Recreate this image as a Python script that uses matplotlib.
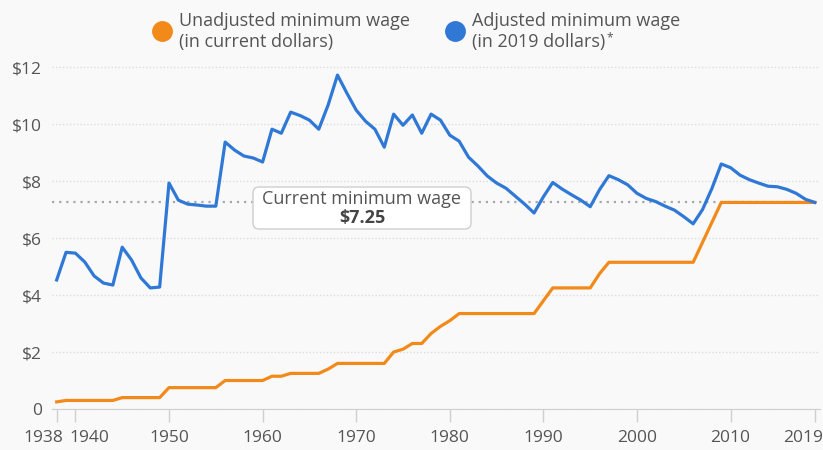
import matplotlib
matplotlib.use("Agg")
import matplotlib.pyplot as plt
from matplotlib.lines import Line2D
from matplotlib.patches import FancyBboxPatch
from matplotlib.transforms import IdentityTransform, ScaledTranslation

plt.rcParams["font.family"] = ["Open Sans", "DejaVu Sans"]

# Federal minimum wage, 1938-2019
years = list(range(1938, 2020))

unadjusted = [
    0.25, 0.30, 0.30, 0.30, 0.30, 0.30, 0.30, 0.40, 0.40, 0.40,   # 1938-1947
    0.40, 0.40, 0.75, 0.75, 0.75, 0.75, 0.75, 0.75, 1.00, 1.00,   # 1948-1957
    1.00, 1.00, 1.00, 1.15, 1.15, 1.25, 1.25, 1.25, 1.25, 1.40,   # 1958-1967
    1.60, 1.60, 1.60, 1.60, 1.60, 1.60, 2.00, 2.10, 2.30, 2.30,   # 1968-1977
    2.65, 2.90, 3.10, 3.35, 3.35, 3.35, 3.35, 3.35, 3.35, 3.35,   # 1978-1987
    3.35, 3.35, 3.80, 4.25, 4.25, 4.25, 4.25, 4.25, 4.75, 5.15,   # 1988-1997
    5.15, 5.15, 5.15, 5.15, 5.15, 5.15, 5.15, 5.15, 5.15, 5.85,   # 1998-2007
    6.55, 7.25, 7.25, 7.25, 7.25, 7.25, 7.25, 7.25, 7.25, 7.25,   # 2008-2017
    7.25, 7.25,                                                   # 2018-2019
]

adjusted = [
    4.53, 5.50, 5.47, 5.16, 4.67, 4.42, 4.35, 5.68, 5.23, 4.60,   # 1938-1947
    4.25, 4.28, 7.93, 7.33, 7.19, 7.16, 7.12, 7.12, 9.37, 9.09,   # 1948-1957
    8.88, 8.81, 8.67, 9.82, 9.68, 10.42, 10.30, 10.14, 9.82, 10.67,  # 1958-1967
    11.72, 11.09, 10.49, 10.10, 9.82, 9.19, 10.35, 9.96, 10.32, 9.68,  # 1968-1977
    10.35, 10.14, 9.61, 9.40, 8.84, 8.53, 8.18, 7.93, 7.75, 7.47,   # 1978-1987
    7.19, 6.88, 7.45, 7.95, 7.72, 7.52, 7.33, 7.10, 7.70, 8.19,   # 1988-1997
    8.05, 7.87, 7.57, 7.39, 7.28, 7.12, 6.98, 6.75, 6.50, 7.00,   # 1998-2007
    7.74, 8.60, 8.47, 8.21, 8.05, 7.93, 7.82, 7.80, 7.71, 7.57,   # 2008-2017
    7.36, 7.25,                                                   # 2018-2019
]

current_wage = 7.25
x_ticks = [1938, 1940, 1950, 1960, 1970, 1980, 1990, 2000, 2010, 2019]
y_ticks = [0, 2, 4, 6, 8, 10, 12]
y_labels = ["0", "$2", "$4", "$6", "$8", "$10", "$12"]

ORANGE = "#f28a1a"
BLUE = "#2f78d6"
BG = "#f9f9f9"
TEXT = "#555555"
W, H = 823, 450

fig = plt.figure(figsize=(W / 100, H / 100), dpi=100, facecolor=BG)
ax = fig.add_axes([52 / W, 41 / H, 768 / W, 349 / H], facecolor=BG)

ax.axhline(current_wage, color="#a8a8a8", linestyle=(0, (1, 2.2)), linewidth=1.6, zorder=1)
ax.plot(years, unadjusted, color=ORANGE, linewidth=2.3, zorder=3, solid_joinstyle="round")
ax.plot(years, adjusted, color=BLUE, linewidth=2.3, zorder=4, solid_joinstyle="round")

ax.set_xlim(1937.5, 2019.55)
ax.set_ylim(0, 12.25)
ax.set_xticks(x_ticks)
ax.set_xticklabels([""] * len(x_ticks))
ax.set_yticks(y_ticks)
ax.set_yticklabels(y_labels)

# x labels drawn by hand so the crowded / edge ones can be nudged like the original
nudges = {1938: -13, 1940: 14, 2019: -12}
for yr in x_ticks:
    off = ScaledTranslation(nudges.get(yr, 0) / 100, -29 / 100, fig.dpi_scale_trans)
    ax.text(yr, 0, str(yr), transform=ax.get_xaxis_transform() + off,
            ha="center", va="center", fontsize=12.5, color=TEXT, clip_on=False)

ax.grid(axis="y", color="#dcdcdc", linestyle=(0, (1, 1.5)), linewidth=1.0, zorder=0)
for side in ["top", "right", "left"]:
    ax.spines[side].set_visible(False)
ax.spines["bottom"].set_color("#cfcfcf")
ax.tick_params(axis="x", colors="#cfcfcf", length=9, width=1)
ax.tick_params(axis="y", length=0, labelcolor=TEXT, labelsize=12.5, pad=7)

# "current minimum wage" callout box (pixel coordinates)
box = FancyBboxPatch((253, H - 229), 218, 42, boxstyle="round,pad=0,rounding_size=6",
                     facecolor="white", edgecolor="#cfcfcf", linewidth=1,
                     transform=IdentityTransform(), zorder=5)
fig.add_artist(box)
fig.text(362 / W, 1 - 199 / H, "Current minimum wage", ha="center", va="center",
         fontsize=13, color=TEXT, zorder=6)
fig.text(362 / W, 1 - 218 / H, "$7.25", ha="center", va="center",
         fontsize=13, fontweight="bold", color="#444444", zorder=6)

# legend at the top
legend_items = [
    (162, ORANGE, "Unadjusted minimum wage", "(in current dollars)"),
    (455, BLUE, "Adjusted minimum wage", "(in 2019 dollars)"),
]
for cx, color, line1, line2 in legend_items:
    fig.add_artist(Line2D([cx / W], [1 - 31 / H], marker="o", markersize=14,
                          color=color, linestyle="none", transform=fig.transFigure))
    fig.text((cx + 17) / W, 1 - 21 / H, line1, ha="left", va="center", fontsize=13, color=TEXT)
    last = fig.text((cx + 17) / W, 1 - 42 / H, line2, ha="left", va="center", fontsize=13, color=TEXT)

# small raised asterisk right after "(in 2019 dollars)"
ax.annotate("*", xy=(1, 1), xycoords=last, xytext=(1, 1), textcoords="offset points",
            ha="left", va="top", fontsize=8.5, color=TEXT, annotation_clip=False)

fig.savefig("out.png", dpi=100, facecolor=BG)
